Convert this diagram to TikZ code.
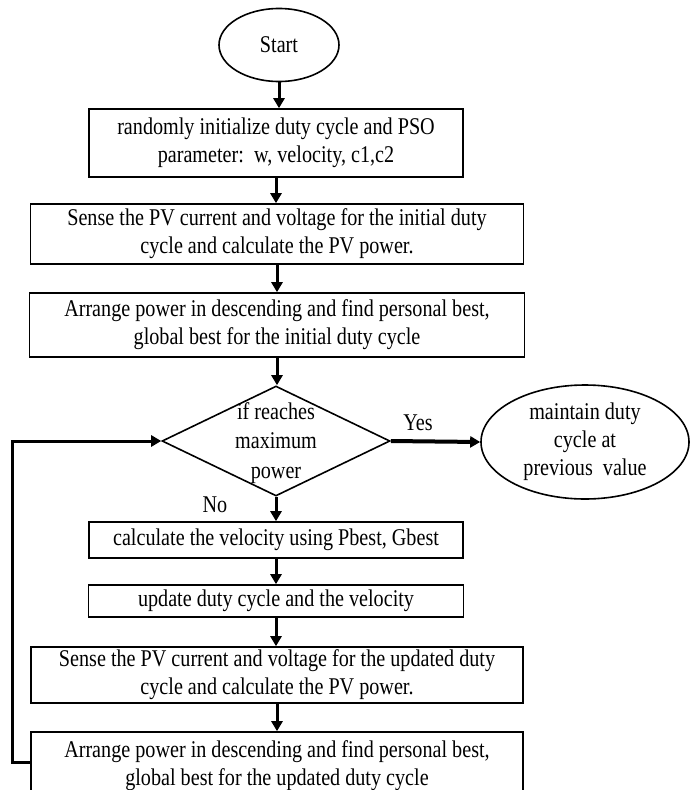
\documentclass[tikz,border=0pt]{standalone}
\usepackage{fontspec}
\setmainfont{Liberation Serif}[FakeStretch=0.84]
\usetikzlibrary{shapes.geometric,arrows.meta}
\begin{document}
\begin{tikzpicture}[x=1pt,y=-1pt,
  txt/.style={font=\fontsize{24}{28}\selectfont},
  box/.style={txt, draw, line width=1.6pt, rectangle, inner sep=0pt, align=center},
  oval/.style={txt, draw, line width=1.6pt, ellipse, inner sep=0pt, align=center},
  conn/.style={line width=3pt, -{Triangle[length=10pt,width=11pt]}},
  lbl/.style={txt, inner sep=0pt}]
\clip (0,0) rectangle (692,790);
\node[oval, minimum width=120pt, minimum height=73pt] (start) at (279,45) {Start};
\node[box, minimum width=374pt, minimum height=68pt] (b1) at (276,143)
  {randomly initialize duty cycle and PSO\\parameter:\ \ w, velocity, c1,c2};
\node[box, minimum width=493pt, minimum height=60pt] (b2) at (277,234)
  {Sense the PV current and voltage for the initial duty\\cycle and calculate the PV power.};
\node[box, minimum width=495pt, minimum height=64pt] (b3) at (277,325)
  {Arrange power in descending and find personal best,\\global best for the initial duty cycle};
\node[draw, line width=1.6pt, diamond, minimum width=228pt, minimum height=110pt, inner sep=0pt] (dec) at (276,441) {};
\node[lbl, align=center, font=\fontsize{24}{29.5}\selectfont] (dectxt) at (276,443) {if reaches\\maximum\\power};
\node[oval, minimum width=208pt, minimum height=114pt] (keep) at (585,442)
  {maintain duty\\cycle at\\previous\ \ value};
\node[lbl] (yes) at (418,423) {Yes};
\node[lbl] (no) at (215,505) {No};
\node[box, minimum width=374pt, minimum height=36pt] (b4) at (276,540)
  {calculate the velocity using Pbest, Gbest};
\node[box, minimum width=375pt, minimum height=32pt] (b5) at (276,601)
  {update duty cycle and the velocity};
\node[box, minimum width=492pt, minimum height=56pt] (b6) at (277,675)
  {Sense the PV current and voltage for the updated duty\\cycle and calculate the PV power.};
\node[box, minimum width=492pt, minimum height=68pt] (b7) at (277,766)
  {Arrange power in descending and find personal best,\\global best for the updated duty cycle};
\draw[conn] (start.south) -- (start.south |- b1.north);
\draw[conn] (b1.south) -- (b1.south |- b2.north);
\draw[conn] (b2.south) -- (b2.south |- b3.north);
\draw[conn] (b3.south) -- (b3.south |- dec.north);
\draw[conn, line width=4pt] (dec.east) -- (keep.west);
\draw[conn] (dec.south) -- (dec.south |- b4.north);
\draw[conn] (b4.south) -- (b4.south |- b5.north);
\draw[conn] (b5.south) -- (b5.south |- b6.north);
\draw[conn] (b6.south) -- (b6.south |- b7.north);
\draw[conn] ([yshift=4pt]b7.west) -- ++(-18,0) |- (dec.west);
\end{tikzpicture}
\end{document}
